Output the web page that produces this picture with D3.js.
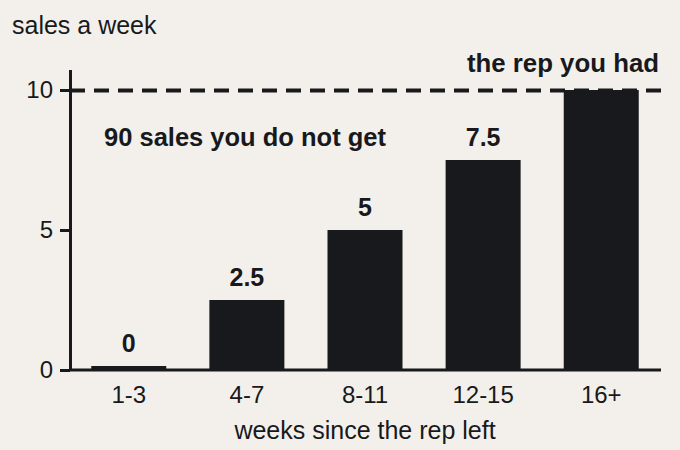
<!DOCTYPE html>
<html>
<head>
<meta charset="utf-8">
<script src="https://cdn.jsdelivr.net/npm/d3@7"></script>
<style>
  html, body { margin: 0; padding: 0; background: #f3f0eb; }
  svg { display: block; font-family: "Liberation Sans", Arial, sans-serif; }
  .tick text { font-size: 24px; fill: #17191c; }
</style>
</head>
<body>
<div id="chart"></div>
<script>
// data
const weeks = ["1-3", "4-7", "8-11", "12-15", "16+"];
const sales = [0, 2.5, 5, 7.5, 10];
const valueLabels = ["0", "2.5", "5", "7.5", ""];
const yTicks = [0, 5, 10];
const repHad = 10;

const width = 680, height = 450;
const margin = {top: 90, right: 20, bottom: 80, left: 70};
const ink = "#17191c";

const svg = d3.select("#chart")
    .append("svg")
    .attr("width", width)
    .attr("height", height);

svg.append("rect")
    .attr("width", width)
    .attr("height", height)
    .attr("fill", "#f3f0eb");

// ranges
const x = d3.scaleBand()
    .domain(weeks)
    .range([margin.left, 660])
    .paddingInner(0.365)
    .paddingOuter(0.18);

const y = d3.scaleLinear()
    .domain([0, 10])
    .range([370, 90]);

// bars (the zero bar still gets a thin sliver)
svg.append("g")
    .selectAll("rect")
    .data(sales)
    .join("rect")
    .attr("x", (d, i) => x(weeks[i]))
    .attr("width", x.bandwidth())
    .attr("y", d => Math.min(y(d), y(0) - 4))
    .attr("height", d => Math.max(y(0) - y(d), 4))
    .attr("fill", ink);

// value labels above bars
svg.append("g")
    .selectAll("text")
    .data(sales)
    .join("text")
    .attr("x", (d, i) => x(weeks[i]) + x.bandwidth() / 2)
    .attr("y", d => Math.min(y(d), y(0) - 4) - 14)
    .attr("text-anchor", "middle")
    .attr("font-size", 25)
    .attr("font-weight", "bold")
    .attr("fill", ink)
    .text((d, i) => valueLabels[i]);

// dashed line for the rep you had
svg.append("line")
    .attr("x1", margin.left)
    .attr("x2", 661)
    .attr("y1", y(repHad) + 0.5)
    .attr("y2", y(repHad) + 0.5)
    .attr("stroke", ink)
    .attr("stroke-width", 4)
    .attr("stroke-dasharray", "15 9");

// Y axis
const yAxis = svg.append("g")
    .attr("transform", "translate(" + margin.left + ",0)")
    .call(d3.axisLeft(y).tickValues(yTicks).tickSize(10).tickPadding(7));
yAxis.select(".domain").remove();
yAxis.selectAll(".tick line").attr("stroke", ink).attr("stroke-width", 3);

svg.append("line")
    .attr("x1", margin.left + 0.5).attr("x2", margin.left + 0.5)
    .attr("y1", 70).attr("y2", y(0))
    .attr("stroke", ink)
    .attr("stroke-width", 3);

// X axis
const xAxis = svg.append("g")
    .attr("transform", "translate(0," + y(0) + ")")
    .call(d3.axisBottom(x).tickSize(0).tickPadding(16));
xAxis.select(".domain").remove();

svg.append("line")
    .attr("x1", margin.left).attr("x2", 661)
    .attr("y1", y(0)).attr("y2", y(0))
    .attr("stroke", ink)
    .attr("stroke-width", 3);

// titles and notes
svg.append("text")
    .attr("x", 12).attr("y", 34)
    .attr("font-size", 25)
    .attr("fill", ink)
    .text("sales a week");

svg.append("text")
    .attr("x", 365).attr("y", 439)
    .attr("text-anchor", "middle")
    .attr("font-size", 25)
    .attr("fill", ink)
    .text("weeks since the rep left");

svg.append("text")
    .attr("x", 659).attr("y", 72)
    .attr("text-anchor", "end")
    .attr("font-size", 25.8)
    .attr("font-weight", "bold")
    .attr("fill", ink)
    .text("the rep you had");

svg.append("text")
    .attr("x", 104).attr("y", 146)
    .attr("font-size", 25.5)
    .attr("font-weight", "bold")
    .attr("fill", ink)
    .text("90 sales you do not get");
</script>
</body>
</html>
